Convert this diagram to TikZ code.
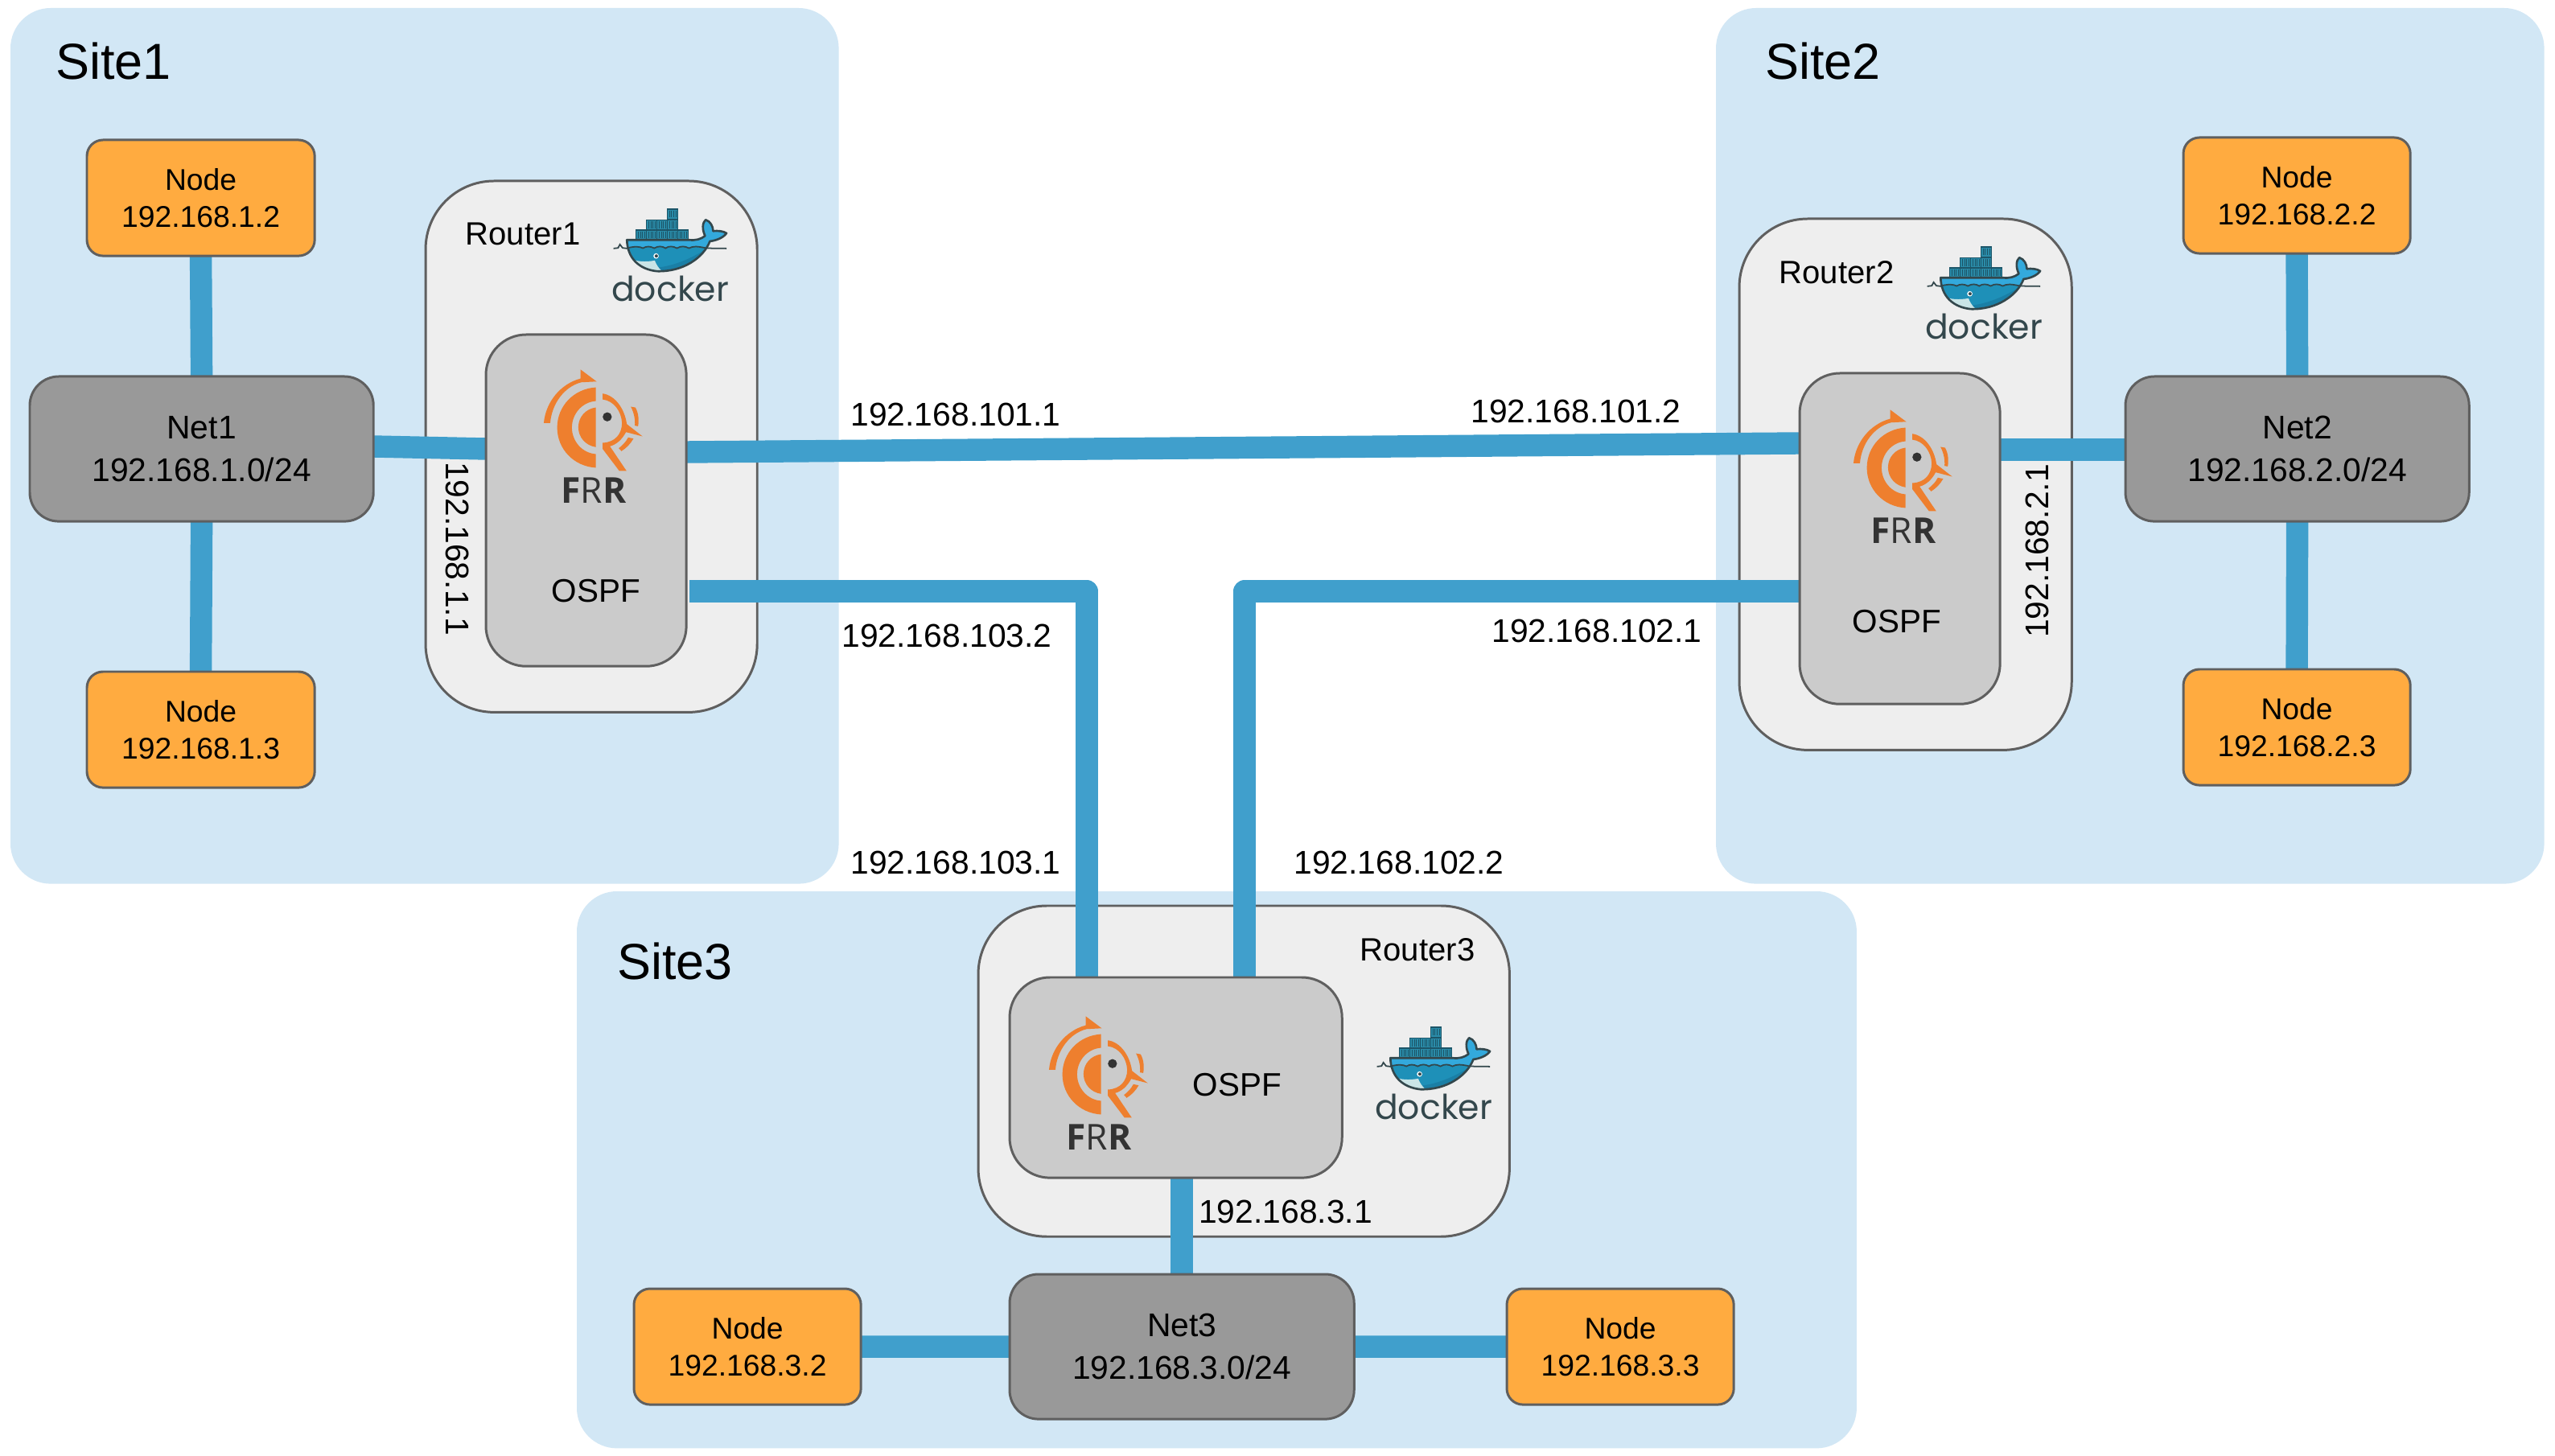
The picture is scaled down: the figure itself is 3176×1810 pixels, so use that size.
\documentclass[tikz,border=0pt]{standalone}
\usepackage{fontspec}
\setmainfont{Liberation Sans}
\newfontfamily\dockerfont{Poppins}
\newfontfamily\frrfont{Open Sans}
\usetikzlibrary{calc}
\pgfdeclarelayer{backplane}
\pgfdeclarelayer{wires}
\pgfsetlayers{backplane,wires,main}
\definecolor{sitecol}{HTML}{D2E7F5}
\definecolor{routercol}{HTML}{EEEEEE}
\definecolor{innercol}{HTML}{CBCBCB}
\definecolor{netcol}{HTML}{999999}
\definecolor{nodecol}{HTML}{FFAB40}
\definecolor{edgecol}{HTML}{5F5F5F}
\definecolor{wirecol}{HTML}{409FCC}
\definecolor{frrorange}{HTML}{EE7F2E}
\definecolor{frrdark}{HTML}{333333}
\definecolor{dkdark}{HTML}{33474C}
\definecolor{dkband}{HTML}{33A9DC}
\definecolor{dkbody}{HTML}{1E90B8}
\definecolor{dkdeep}{HTML}{1A7FA6}
\definecolor{dkbelly}{HTML}{C9E4E6}
\definecolor{dkbox}{HTML}{2A8BA8}
\definecolor{dkedge}{HTML}{1C5568}
\tikzset{
  x=0.01cm,y=-0.01cm,
  boxbase/.style={draw=edgecol,line width=0.85pt,inner sep=0pt,outer sep=0pt,align=center,anchor=north west,font=\fontsize{10.6}{13.2}\selectfont},
  sitebox/.style={fill=sitecol,inner sep=0pt,outer sep=0pt,anchor=north west,rounded corners=0.5cm},
  routerbox/.style={boxbase,fill=routercol,rounded corners=0.85cm},
  innerbox/.style={boxbase,fill=innercol,rounded corners=0.5cm},
  netbox/.style={boxbase,fill=netcol,rounded corners=0.36cm,font=\fontsize{11.6}{15}\selectfont},
  hostbox/.style={boxbase,fill=nodecol,rounded corners=0.2cm},
  wire/.style={draw=wirecol,line width=7.8pt,line join=round},
  sitelabel/.style={font=\fontsize{17.9}{20}\selectfont,inner sep=0pt},
  iplabel/.style={font=\fontsize{11.6}{14}\selectfont,inner sep=0pt},
  routerlabel/.style={font=\fontsize{11.4}{14}\selectfont,inner sep=0pt},
  ospflabel/.style={font=\fontsize{11.5}{14}\selectfont,inner sep=0pt},
}
% logos are drawn in a local frame of 540 x 600 units = 180 x 200 reference pixels
\newcommand{\frrlogo}[2]{%
\begin{scope}[shift={(#1,#2)},x=0.00333cm,y=-0.00333cm]
 \fill[frrorange] (78,258) .. controls (85,180) and (140,112) .. (215,92) -- (215,58) -- (275,103) -- (218,106) .. controls (155,122) and (108,185) .. (102,258) -- cycle;
 \fill[frrorange] (272,125) .. controls (190,130) and (128,195) .. (128,275) .. controls (128,355) and (190,420) .. (272,425) -- (272,374) .. controls (220,370) and (183,325) .. (183,275) .. controls (183,225) and (220,180) .. (272,176) -- cycle;
 \fill[frrorange] (272,200) .. controls (235,205) and (207,235) .. (207,274) .. controls (207,312) and (235,342) .. (272,348) -- cycle;
 \fill[frrorange] (298,148) .. controls (345,155) and (380,205) .. (388,262) -- (447,308) -- (385,292) .. controls (370,320) and (350,338) .. (325,345) -- (387,437) -- (360,437) -- (298,355) -- (298,332) .. controls (345,330) and (370,298) .. (370,258) .. controls (368,215) and (340,175) .. (298,170) -- cycle;
 \fill[frrorange] (403,197) -- (420,200) .. controls (432,220) and (434,248) .. (430,270) -- (418,268) .. controls (420,245) and (415,220) .. (403,197) -- cycle;
 \fill[frrorange] (358,352) .. controls (372,342) and (385,328) .. (393,312) -- (413,316) .. controls (402,336) and (386,352) .. (368,363) -- cycle;
 \fill[frrdark] (315,235) circle[radius=17];
 \node[text=frrdark,inner sep=0pt,font=\frrfont\fontsize{12.6}{14}\selectfont] at (264,510) {\textbf{F}R\textbf{R}};
\end{scope}}
\newcommand{\dockerbox}[2]{%
 \fill[dkbox,draw=dkedge,line width=0.35pt] (#1,#2) rectangle ++(39,37);
 \foreach \s in {8,16,24,32}{\draw[dkedge,line width=0.2pt] ($(#1,#2)+(\s,6)$) -- ++(0,25);}}
\newcommand{\dockerlogo}[2]{%
\begin{scope}[shift={(#1,#2)},x=0.00333cm,y=-0.00333cm]
 \dockerbox{268}{60}
 \dockerbox{191}{100}\dockerbox{230}{100}\dockerbox{269}{100}
 \dockerbox{152}{138}\dockerbox{191}{138}\dockerbox{230}{138}\dockerbox{269}{138}\dockerbox{308}{138}
 \fill[dkbody] (118,175) -- (350,175) .. controls (375,178) and (395,172) .. (410,160) .. controls (398,135) and (400,110) .. (412,100) .. controls (430,105) and (440,125) .. (440,142) .. controls (458,140) and (478,142) .. (490,150) .. controls (478,168) and (448,178) .. (428,180) .. controls (405,240) and (330,295) .. (230,292) .. controls (165,285) and (120,245) .. (118,175) -- cycle;
 \fill[dkband] (118,175) -- (350,175) .. controls (375,178) and (395,172) .. (410,160) .. controls (398,135) and (400,110) .. (412,100) .. controls (430,105) and (440,125) .. (440,142) .. controls (458,140) and (478,142) .. (490,150) .. controls (478,168) and (448,178) .. (428,180) .. controls (424,190) and (420,196) .. (415,203) -- (390,203) .. controls (375,197) and (365,197) .. (350,204) .. controls (335,197) and (320,195) .. (305,204) .. controls (290,197) and (275,195) .. (262,204) .. controls (248,195) and (235,195) .. (220,204) .. controls (205,197) and (190,195) .. (178,204) .. controls (165,197) and (150,195) .. (135,204) -- (120,204) -- cycle;
 \fill[dkdeep] (180,280) .. controls (270,285) and (345,250) .. (405,215) .. controls (375,262) and (310,294) .. (230,292) .. controls (212,291) and (196,287) .. (180,280) -- cycle;
 \fill[dkbelly] (142,250) .. controls (170,258) and (200,256) .. (222,252) .. controls (228,268) and (238,282) .. (248,291) .. controls (205,292) and (165,280) .. (142,250) -- cycle;
 \draw[dkdark,line width=0.75pt,line join=round] (118,175) -- (350,175) .. controls (375,178) and (395,172) .. (410,160) .. controls (398,135) and (400,110) .. (412,100) .. controls (430,105) and (440,125) .. (440,142) .. controls (458,140) and (478,142) .. (490,150) .. controls (478,168) and (448,178) .. (428,180) .. controls (405,240) and (330,295) .. (230,292) .. controls (165,285) and (120,245) .. (118,175) -- cycle;
 \draw[dkdark,line width=0.5pt] (68,207) -- (85,205) -- (92,192) -- (102,205) -- (120,207);
 \draw[dkdark,line width=0.5pt] (122,205) .. controls (150,198) and (165,200) .. (178,206) .. controls (190,198) and (205,198) .. (220,206) .. controls (235,197) and (250,198) .. (262,206) .. controls (275,197) and (290,198) .. (305,206) .. controls (320,197) and (335,198) .. (350,206) .. controls (365,198) and (380,198) .. (415,206) -- (490,207);
 \fill[white] (227,235) circle[radius=10];
 \fill[dkdark] (228,235) circle[radius=6];
 \node[text=dkdark,inner sep=0pt,font=\dockerfont\fontsize{12.1}{14}\selectfont] at (280,357) {docker};
\end{scope}}
\begin{document}
\begin{tikzpicture}
\useasboundingbox (0,0) rectangle (3176,1810);
\begin{pgfonlayer}{backplane}
 \fill[white] (0,0) rectangle (3176,1810);
 \node[sitebox,minimum width=10.29cm,minimum height=10.88cm] (site1) at (13,10) {};
 \node[sitebox,minimum width=10.29cm,minimum height=10.88cm] (site2) at (2133,10) {};
 \node[sitebox,minimum width=15.90cm,minimum height=6.92cm] (site3) at (717,1108) {};
 \node[routerbox,minimum width=4.12cm,minimum height=6.60cm] (router1) at (529,225) {};
 \node[routerbox,minimum width=4.13cm,minimum height=6.60cm] (router2) at (2162,272) {};
 \node[routerbox,minimum width=6.60cm,minimum height=4.11cm] (router3) at (1216,1126) {};
\end{pgfonlayer}
% boxes
\node[innerbox,minimum width=2.49cm,minimum height=4.12cm] (inner1) at (604,416) {};
\node[innerbox,minimum width=2.49cm,minimum height=4.11cm] (inner2) at (2237,464) {};
\node[innerbox,minimum width=4.13cm,minimum height=2.49cm] (inner3) at (1255,1215) {};
\node[netbox,minimum width=4.27cm,minimum height=1.80cm] (net1) at (37,468) {Net1\\192.168.1.0/24};
\node[netbox,minimum width=4.27cm,minimum height=1.80cm] (net2) at (2642,468) {Net2\\192.168.2.0/24};
\node[netbox,minimum width=4.28cm,minimum height=1.80cm] (net3) at (1255,1584) {Net3\\192.168.3.0/24};
\node[hostbox,minimum width=2.83cm,minimum height=1.44cm] (host12) at (108,174) {Node\\192.168.1.2};
\node[hostbox,minimum width=2.83cm,minimum height=1.44cm] (host13) at (108,835) {Node\\192.168.1.3};
\node[hostbox,minimum width=2.82cm,minimum height=1.44cm] (host22) at (2714,171) {Node\\192.168.2.2};
\node[hostbox,minimum width=2.82cm,minimum height=1.44cm] (host23) at (2714,832) {Node\\192.168.2.3};
\node[hostbox,minimum width=2.82cm,minimum height=1.44cm] (host32) at (788,1602) {Node\\192.168.3.2};
\node[hostbox,minimum width=2.82cm,minimum height=1.44cm] (host33) at (1873,1602) {Node\\192.168.3.3};
% free ends of connectors
\coordinate (w1a) at (net1.east |- 0,555);
\coordinate (w1b) at (inner1.west |- 0,558);
\coordinate (w2a) at (inner1.east |- 0,562);
\coordinate (w2b) at (inner2.west |- 0,551);
\coordinate (w3a) at (857,735);
\coordinate (w3c) at (1351,735);
\coordinate (w3b) at (inner3.north -| w3c);
\coordinate (w4a) at (inner2.west |- 0,735);
\coordinate (w4c) at (1547,735);
\coordinate (w4b) at (inner3.north -| w4c);
\coordinate (w5b) at (inner2.east |- 0,559);
\coordinate (w5a) at (net2.west |- 0,559);
\begin{pgfonlayer}{wires}
 \draw[wire] (host12.south) -- (net1.north);
 \draw[wire] (host13.north) -- (net1.south);
 \draw[wire] (host22.south) -- (net2.north);
 \draw[wire] (host23.north) -- (net2.south);
 \draw[wire] (host32.east) -- (net3.west);
 \draw[wire] (host33.west) -- (net3.east);
 \draw[wire] (net3.north) -- (net3.north |- inner3.south);
 \draw[wire] (w1a) -- (w1b);
 \draw[wire] (w2a) -- (w2b);
 \draw[wire] (w5b) -- (w5a);
 \draw[wire] (w3a) -- (w3c) -- (w3b);
 \draw[wire] (w4a) -- (w4c) -- (w4b);
\end{pgfonlayer}
% logos
\dockerlogo{740}{240}
\dockerlogo{2373}{287}
\dockerlogo{1689}{1257}
\frrlogo{650}{440}
\frrlogo{2278}{490}
\frrlogo{1278}{1244}
% labels
\node[sitelabel] (ls1) at (141,76) {Site1};
\node[sitelabel] (ls2) at (2266,76) {Site2};
\node[sitelabel] (ls3) at (839,1195) {Site3};
\node[routerlabel] (lr1) at (650,291) {Router1};
\node[routerlabel] (lr2) at (2283,339) {Router2};
\node[routerlabel] (lr3) at (1762,1181) {Router3};
\node[ospflabel] (lo1) at (741,735) {OSPF};
\node[ospflabel] (lo2) at (2358,773) {OSPF};
\node[ospflabel] (lo3) at (1538,1349) {OSPF};
\node[iplabel] (ip1) at (1188,515) {192.168.101.1};
\node[iplabel] (ip2) at (1959,511) {192.168.101.2};
\node[iplabel] (ip3) at (1177,790) {192.168.103.2};
\node[iplabel] (ip4) at (1985,784) {192.168.102.1};
\node[iplabel] (ip5) at (1188,1072) {192.168.103.1};
\node[iplabel] (ip6) at (1739,1072) {192.168.102.2};
\node[iplabel] (ip7) at (1598,1506) {192.168.3.1};
\node[iplabel,rotate=-90] (ip8) at (569,682) {192.168.1.1};
\node[iplabel,rotate=90] (ip9) at (2532,685) {192.168.2.1};
\end{tikzpicture}
\end{document}
